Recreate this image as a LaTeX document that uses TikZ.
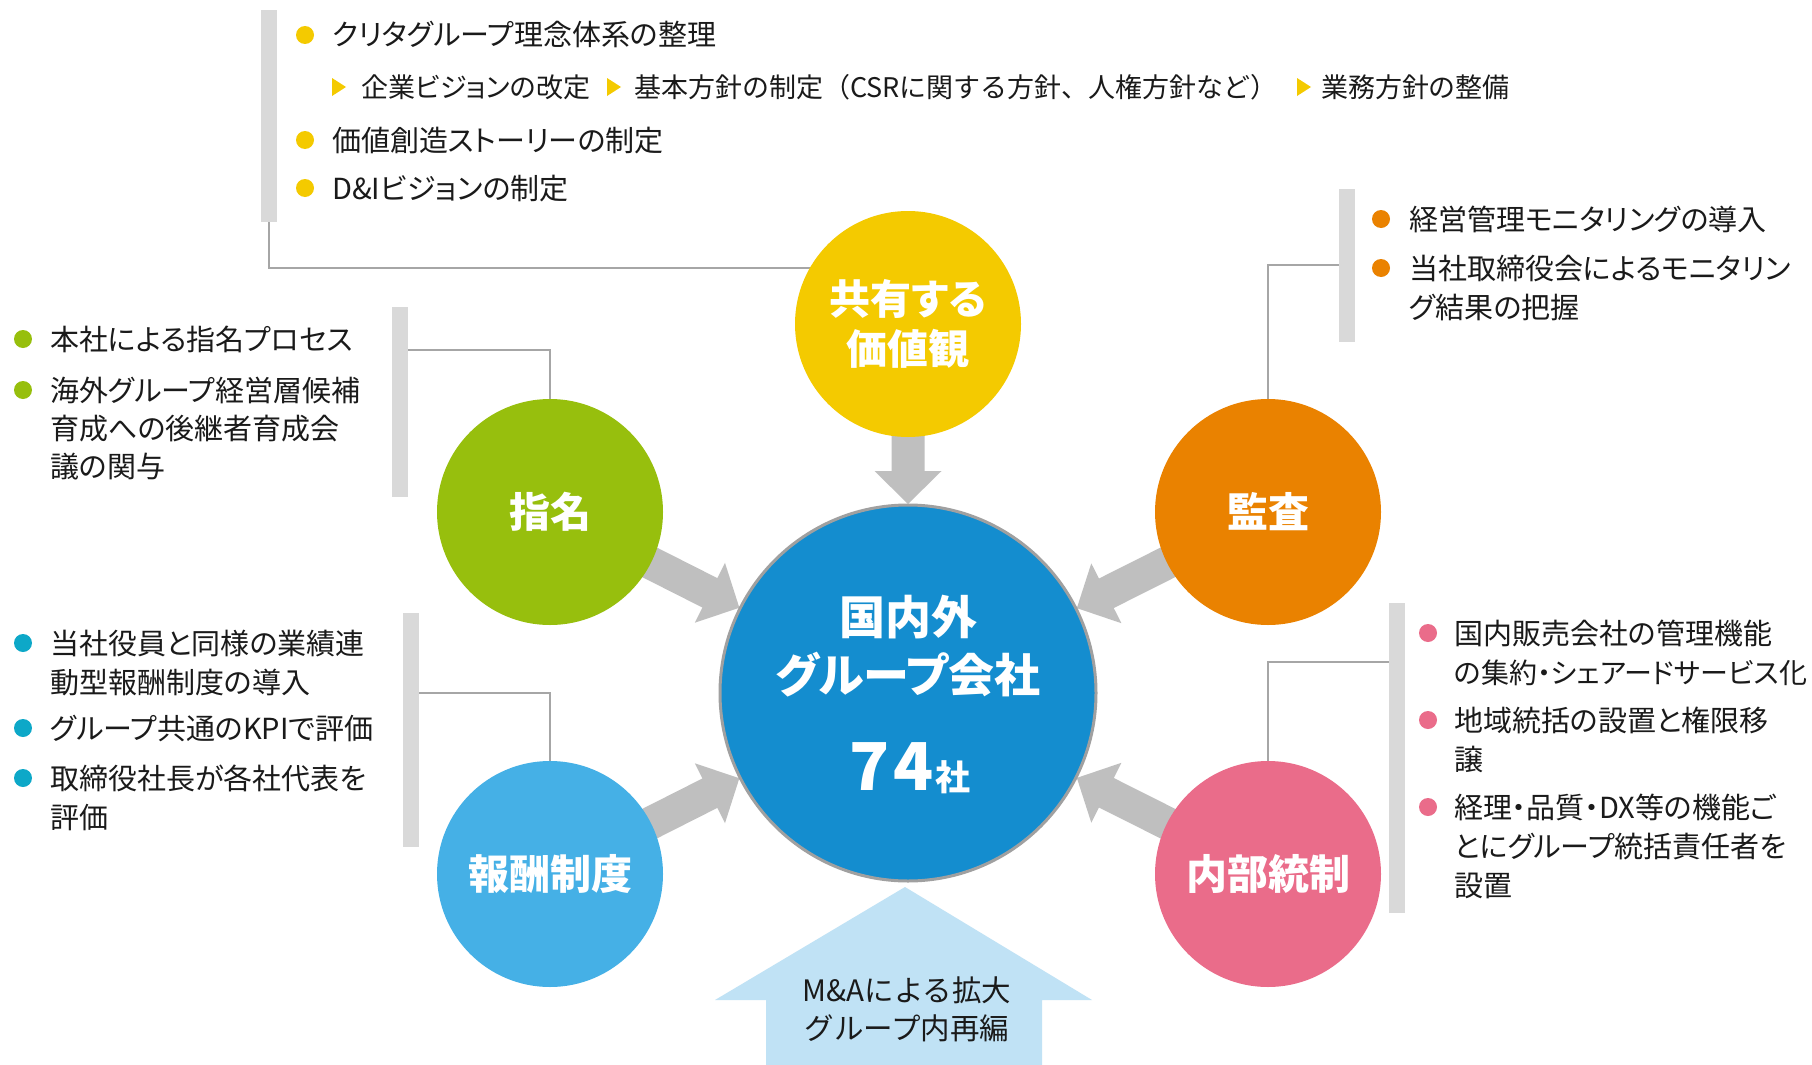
\documentclass[tikz,border=0pt]{standalone}
\usepackage{fontspec}
\setmainfont{Noto Sans CJK JP}[RawFeature={+palt}]
\newfontfamily\jpfull{Noto Sans CJK JP}
\usetikzlibrary{calc}
\definecolor{cyel}{HTML}{F4CA00}
\definecolor{cgrn}{HTML}{97BF0D}
\definecolor{corg}{HTML}{EA8200}
\definecolor{cblu}{HTML}{45B0E6}
\definecolor{cpnk}{HTML}{EA6C8A}
\definecolor{ccen}{HTML}{148DCF}
\definecolor{ctea}{HTML}{0DA8C8}
\definecolor{agray}{HTML}{BFBFBF}
\definecolor{bgray}{HTML}{D9D9D9}
\definecolor{lgray}{HTML}{A6A6A6}
\definecolor{ogray}{HTML}{A0A0A0}
\definecolor{lblue}{HTML}{C0E2F5}
\definecolor{txtc}{HTML}{1A1A1A}
\pgfdeclarelayer{bgfill}
\pgfdeclarelayer{bg}
\pgfsetlayers{bgfill,bg,main}
\newcommand\fatarr[2]{%
  \coordinate (T) at ($(#2.center)!189pt!(#1.center)$);
  \coordinate (B) at ($(#2.center)!222pt!(#1.center)$);
  \fill[agray] ($(#1.center)!16.5pt!90:(#2.center)$) -- ($(B)!16.5pt!-90:(#1.center)$) -- ($(B)!33.5pt!-90:(#1.center)$) -- (T) -- ($(B)!33.5pt!90:(#1.center)$) -- ($(B)!16.5pt!90:(#1.center)$) -- ($(#1.center)!16.5pt!-90:(#2.center)$) -- cycle;}
\begin{document}
\begin{tikzpicture}[x=1pt,y=-1pt,
  cbub/.style={circle, minimum size=226pt, inner sep=0pt, text=white, font=\fontsize{41}{50}\selectfont\bfseries, align=center},
  itm/.style={anchor=west, inner sep=0pt, text=txtc, font=\fontsize{29}{38}\selectfont, text height=25.5pt, text depth=3.5pt},
  subitm/.style={itm, font=\fontsize{27}{38}\selectfont, text height=23.8pt, text depth=3.2pt},
  bdot/.style={circle, minimum size=18pt, inner sep=0pt},
  gbar/.style={fill=bgray, inner sep=0pt, minimum width=16pt},
  cline/.style={draw=lgray, line width=2.5pt},
  ctext/.style={inner sep=0pt, text=white, font=\fontsize{46}{46}\selectfont\bfseries, text height=40.5pt, text depth=5.5pt},
  mtext/.style={inner sep=0pt, text=txtc, font=\jpfull\fontsize{29.5}{29.5}\selectfont, text height=26pt, text depth=3.5pt},
]
\useasboundingbox (0,0) rectangle (1812,1065);
\begin{pgfonlayer}{bgfill}
  \fill[white] (0,0) rectangle (1812,1065);
\end{pgfonlayer}

% circles
\node[cbub, fill=cyel] (cshare) at (908,324) {共有する\\価値観};
\node[cbub, fill=cgrn] (cnom) at (550,512) {指名};
\node[cbub, fill=corg] (caud) at (1268,512) {監査};
\node[cbub, fill=cblu] (crem) at (550,874) {報酬制度};
\node[cbub, fill=cpnk] (cint) at (1268,874) {内部統制};
\node[circle, minimum size=376pt, inner sep=0pt, fill=ccen, draw=ogray, line width=3pt] (ccore) at (908,693) {};
\node[ctext] (core1) at (908,617) {国内外};
\node[ctext] (core2) at (908,675) {グループ会社};
\node[anchor=base, inner sep=0pt, text=white, font=\bfseries] (core3) at (910,790) {\fontsize{66}{66}\selectfont 7\kern4pt 4\kern2pt\fontsize{35}{35}\selectfont 社};

% big light-blue arrow
\begin{pgfonlayer}{bg}
  \fill[lblue] (766,1065) -- (766,1000) -- (715,1000) -- (905,887) -- (1092,1000) -- (1042,1000) -- (1042,1065) -- cycle;
\end{pgfonlayer}
\node[mtext] (mna1) at (907,990) {M\&Aによる拡大};
\node[mtext] (mna2) at (907,1028) {グループ内再編};

% bars
\node[gbar, minimum height=212pt] (bar1) at (269,116) {};
\node[gbar, minimum height=153pt] (bar2) at (1347,265) {};
\node[gbar, minimum height=190pt] (bar3) at (400,402) {};
\node[gbar, minimum height=234pt] (bar4) at (411,730) {};
\node[gbar, minimum height=310pt] (bar5) at (1397,758) {};

% connectors and fat arrows
\begin{pgfonlayer}{bg}
  \draw[cline] (bar1.south) |- ($(cshare.center)+(0,-56)$);
  \draw[cline] (bar2.west) -| (caud);
  \draw[cline] ($(bar3.north east)+(0,43)$) -| (cnom);
  \draw[cline] ($(bar4.north east)+(0,80)$) -| (crem);
  \draw[cline] ($(bar5.north west)+(0,59)$) -| (cint);
  \fatarr{cshare}{ccore}
  \fatarr{cnom}{ccore}
  \fatarr{caud}{ccore}
  \fatarr{crem}{ccore}
  \fatarr{cint}{ccore}
\end{pgfonlayer}

% top block
\node[bdot, fill=cyel] (d11) at (305,35) {};
\node[itm] (t11) at (332,35) {クリタグループ理念体系の整理};
\fill[cyel] (332,78) -- (346,87) -- (332,96) -- cycle;
\node[subitm] (t12) at (361,87) {企業ビジョンの改定};
\fill[cyel] (607,78) -- (621,87) -- (607,96) -- cycle;
\node[subitm, font=\jpfull\fontsize{27}{38}\selectfont] (t13) at (634,87) {基本方針の制定（CSRに関する方針、人権方針など）};
\fill[cyel] (1297,78) -- (1311,87) -- (1297,96) -- cycle;
\node[subitm] (t14) at (1321,87) {業務方針の整備};
\node[bdot, fill=cyel] (d12) at (305,140) {};
\node[itm] (t15) at (332,140) {価値創造ストーリーの制定};
\node[bdot, fill=cyel] (d13) at (305,188) {};
\node[itm] (t16) at (332,188) {D\&Iビジョンの制定};

% orange block
\node[bdot, fill=corg] (d21) at (1381,219) {};
\node[itm] (t21) at (1409,219) {経営管理モニタリングの導入};
\node[bdot, fill=corg] (d22) at (1381,268) {};
\node[itm] (t22) at (1409,268) {当社取締役会によるモニタリン};
\node[itm] (t23) at (1409,307) {グ結果の把握};

% green block
\node[bdot, fill=cgrn] (d31) at (23,339) {};
\node[itm] (t31) at (50,339) {本社による指名プロセス};
\node[bdot, fill=cgrn] (d32) at (23,390) {};
\node[itm] (t32) at (50,390) {海外グループ経営層候補};
\node[itm] (t33) at (50,428) {育成への後継者育成会};
\node[itm] (t34) at (50,466) {議の関与};

% blue block
\node[bdot, fill=ctea] (d41) at (23,643) {};
\node[itm] (t41) at (50,643) {当社役員と同様の業績連};
\node[itm] (t42) at (50,682) {動型報酬制度の導入};
\node[bdot, fill=ctea] (d42) at (23,728) {};
\node[itm] (t43) at (50,728) {グループ共通のKPIで評価};
\node[bdot, fill=ctea] (d43) at (23,778) {};
\node[itm] (t44) at (50,778) {取締役社長が各社代表を};
\node[itm] (t45) at (50,817) {評価};

% pink block
\node[bdot, fill=cpnk] (d51) at (1428,633) {};
\node[itm] (t51) at (1454,633) {国内販売会社の管理機能};
\node[itm, font=\fontsize{28}{38}\selectfont] (t52) at (1454,672) {の集約・シェアードサービス化};
\node[bdot, fill=cpnk] (d52) at (1428,720) {};
\node[itm] (t53) at (1454,720) {地域統括の設置と権限移};
\node[itm] (t54) at (1454,759) {譲};
\node[bdot, fill=cpnk] (d53) at (1428,807) {};
\node[itm] (t55) at (1454,807) {経理・品質・DX等の機能ご};
\node[itm] (t56) at (1454,846) {とにグループ統括責任者を};
\node[itm] (t57) at (1454,885) {設置};
\end{tikzpicture}
\end{document}
